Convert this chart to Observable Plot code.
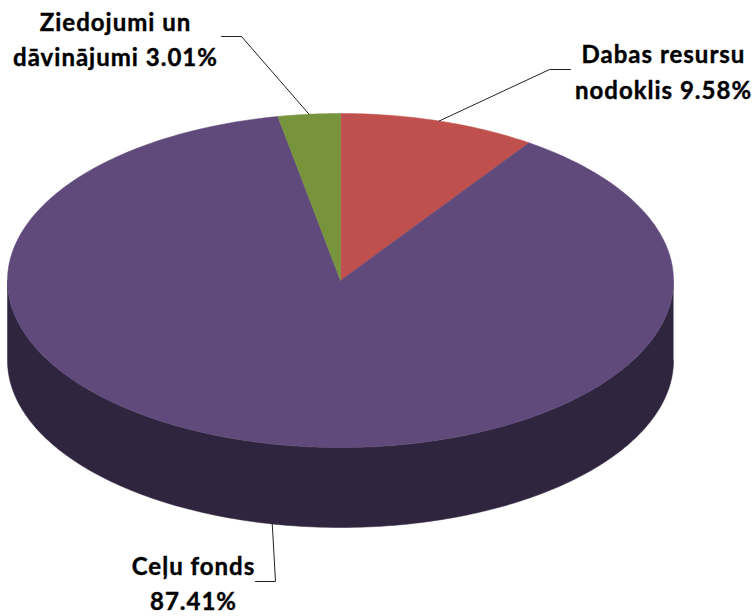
<!DOCTYPE html>
<html>
<head>
<meta charset="utf-8">
<script src="https://cdn.jsdelivr.net/npm/d3@7"></script>
<script src="https://cdn.jsdelivr.net/npm/@observablehq/plot@0.6"></script>
<style>html,body{margin:0;padding:0;background:#fff}svg{display:block}</style>
</head>
<body>
<div id="chart"></div>
<script>
// Data, clockwise from 12 o'clock
const categories = ["Dabas resursu nodoklis", "Ceļu fonds", "Ziedojumi un dāvinājumi"];
const shares = [9.58, 87.41, 3.01];
const sliceColors = ["#C0504D", "#604A7B", "#77933C"];
const labelLines = [["Dabas resursu", "nodoklis 9.58%"], ["Ceļu fonds", "87.41%"], ["Ziedojumi un", "dāvinājumi 3.01%"]];

// Layout
const W = 753, H = 616;
const cx = 340, cy = 280, rx = 333, ry = 167, depth = 80;
const sideColor = "#30253F";
const lineColor = "#222";
const labelCenter = [[663, 62, 36], [193, 574, 35], [115, 30, 35]]; // x, first baseline, line step
const elbows = [[[549, 69], [570, 69]], [[275, 581], [255, 581]], [[241, 36], [221, 36]]];

const px = (t) => cx + rx * Math.sin(t);
const py = (t) => cy - ry * Math.cos(t);
const arc = (a, b) => { const n = Math.max(2, Math.ceil(Math.abs(b - a) * 60)); return d3.range(n + 1).map(i => a + (b - a) * i / n); };

// Slice polygons from the shares
const total = d3.sum(shares);
let acc = 0;
const slices = categories.map((name, i) => {
  const a = acc / total * 2 * Math.PI;
  acc += shares[i];
  const b = acc / total * 2 * Math.PI;
  return {name, i, a, b, mid: (a + b) / 2};
});
const slicePts = slices.flatMap(s => [
  {name: s.name, x: cx, y: cy},
  ...arc(s.a, s.b).map(t => ({name: s.name, x: px(t), y: py(t)})),
  {name: s.name, x: cx, y: cy}
]);

// Visible rim: front half of the ellipse extruded downward
const front = arc(Math.PI / 2, 3 * Math.PI / 2);
const sidePts = [
  ...front.map(t => ({x: px(t), y: py(t)})),
  ...front.slice().reverse().map(t => ({x: px(t), y: py(t) + depth}))
];

// Leader lines: from the slice's mid-angle on the visible edge to the label elbow
const leaders = slices.flatMap((s, i) => {
  const onFront = Math.cos(s.mid) < -0.5;
  const start = {x: px(s.mid), y: py(s.mid) + (onFront ? depth : 0)};
  return [start, ...elbows[i].map(([x, y]) => ({x, y}))].map(p => ({...p, key: s.name}));
});

const labelRows = labelLines.flatMap((lines, i) =>
  lines.map((text, j) => ({text, x: labelCenter[i][0], y: labelCenter[i][1] + j * labelCenter[i][2]})));

const chart = Plot.plot({
  width: W, height: H, margin: 0,
  x: {domain: [0, W], range: [0, W], axis: null},
  y: {domain: [0, H], range: [0, H], axis: null},
  style: {background: "#fff", letterSpacing: "1px"},
  marks: [
    Plot.line(sidePts, {x: "x", y: "y", fill: sideColor, stroke: sideColor, strokeWidth: 0.5}),
    Plot.line(slicePts, {x: "x", y: "y", z: "name",
      fill: d => sliceColors[categories.indexOf(d.name)],
      stroke: d => sliceColors[categories.indexOf(d.name)], strokeWidth: 0.5}),
    Plot.line(leaders, {x: "x", y: "y", z: "key", stroke: lineColor, strokeWidth: 1}),
    Plot.text(labelRows, {x: "x", y: "y", text: "text", textAnchor: "middle", lineAnchor: "bottom",
      fontFamily: "Lato", fontWeight: 700, fontSize: 24, fill: "#000", stroke: "#000", strokeWidth: 0.4})
  ]
});
document.getElementById("chart").append(chart);
</script>
</body>
</html>
